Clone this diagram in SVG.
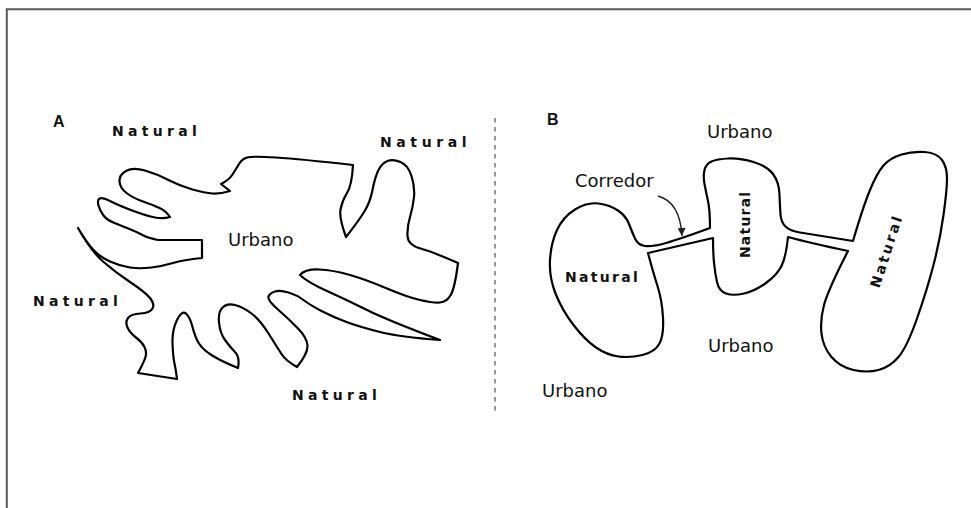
<svg xmlns="http://www.w3.org/2000/svg" width="971" height="508" viewBox="0 0 971 508">
<style>
.shape{fill:none;stroke:#000;stroke-width:2.2;stroke-linejoin:round;stroke-linecap:round}
.nat{font-family:"DejaVu Sans","Liberation Sans",sans-serif;font-weight:bold;font-size:14px;fill:#111}
.urb{font-family:"DejaVu Sans","Liberation Sans",sans-serif;font-size:18px;fill:#111}
.lbl{font-family:"Liberation Sans",Arial,sans-serif;font-weight:bold;font-size:16px;fill:#111}
.frame{fill:none;stroke:#5a5a5a;stroke-width:2}
.divider{stroke:#777;stroke-width:1.5;stroke-dasharray:4.5 4.5}
.arrow{fill:none;stroke:#222;stroke-width:1.4}
</style>
<defs>
<marker id="ah" viewBox="0 0 10 10" refX="10" refY="5" markerUnits="userSpaceOnUse" markerWidth="9" markerHeight="8" orient="auto">
<path d="M0,0 L10,5 L0,10 z" fill="#222"/>
</marker>
</defs>
<rect width="971" height="508" fill="#fff"/>
<path class="frame" d="M6.8,508 V9.2 H971"/>
<line class="divider" x1="495" y1="118" x2="495" y2="412"/>

<g id="panel-a">
<path class="shape" d="M353,165 Q352,185 347,193 Q342,201 340.5,209.5 Q339,218 346,237
Q357,223 363.5,213 Q370,203 372.5,190 Q375,177 378.5,170 Q382,163 387.5,161 Q393,159 400.5,162 Q408,165 411.5,176 Q415,187 414,197 Q413,207 410,217 Q407,227 407.5,236 Q408,245 420.5,248.5 Q433,252 458,263
Q455,287 451,294.5 Q447,302 440,302.5 Q433,303 420,300 Q407,297 387,288.5 Q367,280 350,275 Q333,270 319,269.5 Q305,269 300,275
Q307,282 327,291 Q347,300 367,310 Q387,320 440,340
Q400,337 380,332 Q360,327 346.5,322 Q333,317 321.5,311 Q310,305 303.5,300 Q297,295 288.5,292.5 Q280,290 275,291.5 Q270,293 268.5,296.5 Q267,300 278.5,310 Q290,320 298.5,329 Q307,338 307.5,345.5 Q308,353 297,367
Q286,361 281.5,354 Q277,347 268.5,333.5 Q260,320 251.5,313.5 Q243,307 235,305 Q227,303 222.5,307.5 Q218,312 219,322.5 Q220,333 225,340 Q230,347 235,352 Q240,357 238,368
Q223,362 213,356 Q203,350 199,343.5 Q195,337 192.5,327 Q190,317 186,313.5 Q182,310 177,320 Q172,330 172.5,343.5 Q173,357 174.5,363.5 Q176,370 177,379
L138,373
Q144,362 145.5,357 Q147,352 144.5,347 Q142,342 136,337.5 Q130,333 127.5,327.5 Q125,322 128,318 Q131,314 140.5,313.5 Q150,313 152.5,308.5 Q155,304 150,298 Q145,292 130,282 Q115,272 103,261.5 Q91,251 78,228
Q87,243 93.5,250 Q100,257 110,261.5 Q120,266 130,267.5 Q140,269 151.5,267.5 Q163,266 173,263 Q183,260 202,258
L202,240 L158,240
Q148,238 142.5,235 Q137,232 129.5,229 Q122,226 114.5,223 Q107,220 103.5,215.5 Q100,211 98.5,205.5 Q97,200 99.5,198.5 Q102,197 111,201.5 Q120,206 133.5,211 Q147,216 155,217.5 Q163,219 170,217
Q166,211 159.5,208 Q153,205 143,201.5 Q133,198 126.5,193 Q120,188 119.5,181.5 Q119,175 126,171 Q133,167 145,170.5 Q157,174 168.5,180 Q180,186 192.5,189.5 Q205,193 212.5,193.5 Q220,194 230,191
L221,184
Q229,180 232.5,174.5 Q236,169 239,164 Q242,159 247,157.5 Q252,156 276,157.5 Q300,159 353,165 Z"/>
</g>
<g id="label-a"><text class="lbl" x="53" y="127">A</text></g>
<g id="a-natural-top"><text class="nat" x="112" y="136" letter-spacing="4.3">Natural</text></g>
<g id="a-natural-right"><text class="nat" x="380" y="147" letter-spacing="4.6">Natural</text></g>
<g id="a-natural-left"><text class="nat" x="33" y="306" letter-spacing="4.3">Natural</text></g>
<g id="a-natural-bottom"><text class="nat" x="292" y="400" letter-spacing="4.3">Natural</text></g>
<g id="a-urbano"><text class="urb" x="228" y="246">Urbano</text></g>

<g id="panel-b">
<path class="shape" d="M710,228 Q710,210 708,201 Q706,192 704.5,184 Q703,176 704.5,170 Q706,164 711.5,161.5 Q717,159 728.5,158.5 Q740,158 753.5,162 Q767,166 773,174 Q779,182 779.5,194.5 Q780,207 780.5,214.5 Q781,222 785.5,226.5 Q790,231 800,232.5 Q810,234 853,241
Q863,207 870,190 Q877,173 883.5,165.5 Q890,158 901.5,154.5 Q913,151 925,152 Q937,153 942,160 Q947,167 947,178.5 Q947,190 943.5,215 Q940,240 933.5,265 Q927,290 917,318.5 Q907,347 898.5,357 Q890,367 878.5,370 Q867,373 853.5,370 Q840,367 831.5,357 Q823,347 821.5,333.5 Q820,320 824,305 Q828,290 848,251
Q810,243 788,237
Q786,257 781.5,266 Q777,275 766,283 Q755,291 744,293.5 Q733,296 726,293.5 Q719,291 717,282 Q715,273 714,262.5 Q713,252 713,238
L648,253
Q653,272 657.5,286 Q662,300 663,317.5 Q664,335 659.5,343.5 Q655,352 642.5,355 Q630,358 618.5,356.5 Q607,355 596,347.5 Q585,340 573.5,325 Q562,310 555.5,293.5 Q549,277 550,260 Q551,243 557,230 Q563,217 575,209.5 Q587,202 598.5,203.5 Q610,205 618,210.5 Q626,216 629,224 Q632,232 635,238.5 Q638,245 645,246 Q652,247 666,243 Q680,239 710,228 Z"/>
</g>
<g id="label-b"><text class="lbl" x="547" y="125">B</text></g>
<g id="b-urbano-top"><text class="urb" x="707" y="138">Urbano</text></g>
<g id="b-corredor"><text class="urb" x="575" y="187">Corredor</text></g>
<g id="b-urbano-mid"><text class="urb" x="708" y="352">Urbano</text></g>
<g id="b-urbano-bottom"><text class="urb" x="542" y="397">Urbano</text></g>
<g id="b-natural-left"><text class="nat" x="565" y="282" letter-spacing="2.3">Natural</text></g>
<g id="b-natural-mid"><text class="nat" transform="translate(745,225) rotate(-90)" x="0.6" y="5" text-anchor="middle" letter-spacing="1.2">Natural</text></g>
<g id="b-natural-right"><text class="nat" transform="translate(886,252) rotate(-72)" x="1.2" y="5" text-anchor="middle" letter-spacing="2.5">Natural</text></g>

<g id="connectors">
<path class="arrow" d="M658,196 Q680,202 682,236" marker-end="url(#ah)"/>
</g>
</svg>
